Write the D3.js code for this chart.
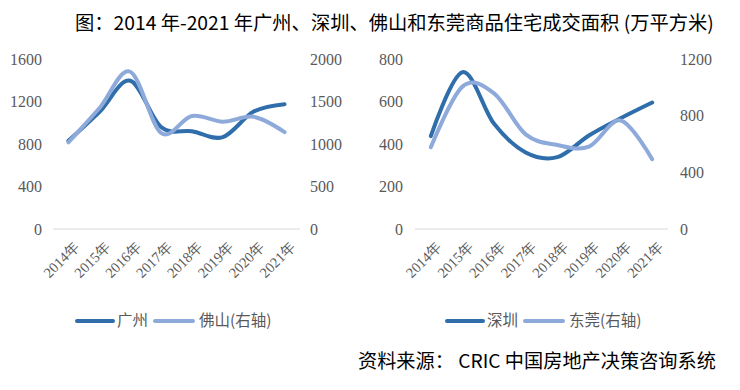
<!DOCTYPE html>
<html><head><meta charset="utf-8">
<script src="https://cdn.jsdelivr.net/npm/d3@7/dist/d3.min.js"></script>
<style>
body{margin:0;background:#fff;}
svg{display:block;}
.num{font-family:'Liberation Serif','Times New Roman',serif;}
.cjk{font-family:'Noto Sans CJK SC',sans-serif;}
</style></head>
<body>
<svg id="c" width="740" height="390"></svg>
<script>
const years = ["2014年","2015年","2016年","2017年","2018年","2019年","2020年","2021年"];
const guangzhou = [830, 1100, 1395, 960, 920, 865, 1105, 1175];
const foshan = [1020, 1420, 1850, 1130, 1330, 1262, 1320, 1140];
const shenzhen = [437, 738, 495, 360, 338, 440, 521, 595];
const dongguan = [577, 1005, 958, 668, 593, 581, 766, 493];
const gzTicks = [0, 400, 800, 1200, 1600];
const fsTicks = [0, 500, 1000, 1500, 2000];
const szTicks = [0, 200, 400, 600, 800];
const dgTicks = [0, 400, 800, 1200];
const titleText = "图：2014 年-2021 年广州、深圳、佛山和东莞商品住宅成交面积 (万平方米)";
const sourceText = "资料来源：   CRIC 中国房地产决策咨询系统";

const DARK = "#2f6eaa", LIGHT = "#8eaadb";
const svg = d3.select("#c");

svg.append("text").attr("class", "cjk").attr("x", 75).attr("y", 30)
  .style("font-size", "19.3px").attr("fill", "#000")
  .text(titleText);
svg.append("text").attr("class", "cjk").attr("x", 358).attr("y", 368)
  .style("font-size", "19.2px").attr("fill", "#000")
  .text(sourceText);

function panel(cfg) {
  const g = svg.append("g");
  const x = d3.scalePoint().domain(years).range([cfg.x0, cfg.x1]).padding(0.5);
  const yL = d3.scaleLinear().domain([0, cfg.lMax]).range([229, 59]);
  const yR = d3.scaleLinear().domain([0, cfg.rMax]).range([229, 59]);

  g.append("line").attr("x1", cfg.x0).attr("x2", cfg.x1).attr("y1", 229).attr("y2", 229)
    .attr("stroke", "#d9d9d9").attr("stroke-width", 1);

  const fmt = d3.format("d");
  const axL = d3.axisLeft(yL).tickValues(cfg.lTicks).tickFormat(fmt).tickSize(0).tickPadding(0);
  const gl = g.append("g").attr("transform", `translate(${cfg.lx},0)`).call(axL);
  const axR = d3.axisRight(yR).tickValues(cfg.rTicks).tickFormat(fmt).tickSize(0).tickPadding(0);
  const gr = g.append("g").attr("transform", `translate(${cfg.rx},0)`).call(axR);
  [gl, gr].forEach(a => {
    a.attr("font-family", null).attr("font-size", null);
    a.select(".domain").remove();
    a.selectAll("text").attr("class", "num").style("font-size", "16px").attr("fill", "#595959");
  });

  const ax = d3.axisBottom(x).tickSize(0).tickPadding(0);
  const gx = g.append("g").attr("transform", "translate(0,229)").call(ax);
  gx.attr("font-family", null).attr("font-size", null);
  gx.select(".domain").remove();
  gx.selectAll("text")
    .attr("class", "num").style("font-size", "14.5px").attr("fill", "#595959")
    .attr("text-anchor", "end")
    .attr("dy", "0.35em")
    .attr("transform", "translate(8,15) rotate(-45)");

  const lineL = d3.line().x((d, i) => x(years[i])).y(d => yL(d)).curve(d3.curveCatmullRom.alpha(0));
  const lineR = d3.line().x((d, i) => x(years[i])).y(d => yR(d)).curve(d3.curveCatmullRom.alpha(0));
  g.append("path").datum(cfg.sA).attr("d", lineL).attr("fill", "none")
    .attr("stroke", DARK).attr("stroke-width", 4).attr("stroke-linecap", "round");
  g.append("path").datum(cfg.sB).attr("d", lineR).attr("fill", "none")
    .attr("stroke", LIGHT).attr("stroke-width", 4).attr("stroke-linecap", "round");

  const lg = g.append("g").attr("transform", `translate(${cfg.legX},321)`);
  lg.append("line").attr("x1", 0).attr("x2", 36).attr("y1", 0).attr("y2", 0)
    .attr("stroke", DARK).attr("stroke-width", 4).attr("stroke-linecap", "round");
  lg.append("text").attr("class", "cjk").attr("x", 40).attr("y", 0).attr("dy", "0.35em")
    .style("font-size", "15.5px").attr("fill", "#595959").text(cfg.nameA);
  lg.append("line").attr("x1", 78).attr("x2", 116).attr("y1", 0).attr("y2", 0)
    .attr("stroke", LIGHT).attr("stroke-width", 4).attr("stroke-linecap", "round");
  lg.append("text").attr("class", "cjk").attr("x", 122).attr("y", 0).attr("dy", "0.35em")
    .style("font-size", "15.5px").attr("fill", "#595959").text(cfg.nameB);
}

panel({x0: 53, x1: 300, lx: 42, rx: 310, lMax: 1600, rMax: 2000, lTicks: gzTicks, rTicks: fsTicks,
  sA: guangzhou, sB: foshan, nameA: "广州", nameB: "佛山(右轴)", legX: 77});
panel({x0: 415, x1: 668, lx: 403, rx: 680, lMax: 800, rMax: 1200, lTicks: szTicks, rTicks: dgTicks,
  sA: shenzhen, sB: dongguan, nameA: "深圳", nameB: "东莞(右轴)", legX: 447});
</script>
</body></html>
